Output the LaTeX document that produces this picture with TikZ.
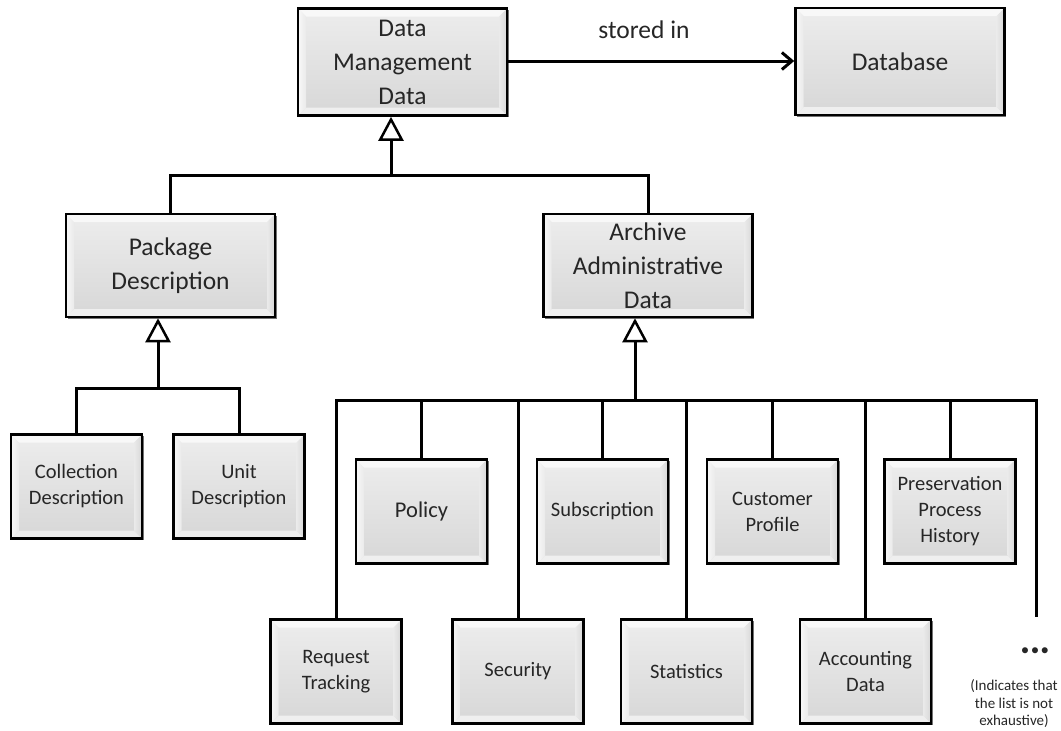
\documentclass[tikz,border=0pt]{standalone}
\usepackage{fontspec}
\setmainfont{Carlito}
\usetikzlibrary{arrows.meta,shadows}
\definecolor{bvtop}{HTML}{F8F8F8}
\definecolor{bvside}{HTML}{EAEAEA}
\definecolor{bvbot}{HTML}{EFEFEF}
\definecolor{midtop}{HTML}{EDEDED}
\definecolor{midbot}{HTML}{D7D7D7}
\definecolor{txt}{HTML}{262626}
\newcommand{\bigfont}{\fontsize{25.5}{34}\selectfont}
\newcommand{\smallfont}{\fontsize{20.5}{26}\selectfont}
\newcommand{\polfont}{\fontsize{22.5}{28}\selectfont}
\newcommand{\notefont}{\fontsize{15}{17.5}\selectfont}
\begin{document}
\begin{tikzpicture}[x=1pt,y=-1pt,
  box/.style={draw=black, line width=2.6pt, inner sep=0pt, align=center, text=txt,
    fill=midbot,
    drop shadow={shadow xshift=1.6pt, shadow yshift=-1.6pt, fill=black!55, opacity=1},
    path picture={
      \def\bv{8pt}
      \coordinate (nw) at (path picture bounding box.north west);
      \coordinate (ne) at (path picture bounding box.north east);
      \coordinate (sw) at (path picture bounding box.south west);
      \coordinate (se) at (path picture bounding box.south east);
      \shade[top color=midtop, bottom color=midbot] (nw) rectangle (se);
      \fill[bvtop] (nw) -- (ne) -- ([xshift=-\bv,yshift=-\bv]ne) -- ([xshift=\bv,yshift=-\bv]nw) -- cycle;
      \fill[bvbot] (sw) -- (se) -- ([xshift=-\bv,yshift=\bv]se) -- ([xshift=\bv,yshift=\bv]sw) -- cycle;
      \shade[left color=bvtop, right color=bvside] (nw) -- ([xshift=\bv,yshift=-\bv]nw) -- ([xshift=\bv,yshift=\bv]sw) -- (sw) -- cycle;
      \shade[left color=bvside, right color=midbot] (ne) -- ([xshift=-\bv,yshift=-\bv]ne) -- ([xshift=-\bv,yshift=\bv]se) -- (se) -- cycle;
    }},
  bigbox/.style={box, minimum width=209pt, minimum height=107pt, font=\bigfont},
  smallbox/.style={box, minimum width=131pt, minimum height=104pt, font=\smallfont},
  conn/.style={line width=3pt, line join=miter},
  gen/.style={conn, -{Triangle[open, length=24pt, width=25pt, line width=2.5pt, fill=white]}},
  assoc/.style={conn, -{Straight Barb[length=10pt, width=17pt, line width=3pt]}}
]
\useasboundingbox (0,0) rectangle (1061,731);

% top level
\node[bigbox] (dmd) at (402.5,62) {Data\\Management\\Data};
\node[bigbox] (db) at (900,61.5) {Database};
\node[font=\bigfont, text=txt] (lbl) at (644,30) {stored in};
\draw[assoc] (dmd.east |- 0,61) -- (db.west |- 0,61);

% second level
\node[bigbox, minimum height=103pt] (pkg) at (170.5,265.5) {Package\\Description};
\node[bigbox, minimum height=103pt] (aad) at (648,265.5) {Archive\\Administrative\\Data};

\coordinate (j1) at (391,175);
\draw[conn] (pkg.north) |- (j1) -| (aad.north);
\draw[gen] (j1) -- (j1 |- dmd.south);

% package children
\node[smallbox] (coll) at (76.5,486.5) {Collection\\Description};
\node[smallbox] (unit) at (239,486.5) {Unit\\Description};
\coordinate (j2) at (158,388);
\draw[conn] (coll.north) |- (j2) -| (unit.north);
\draw[gen] (j2) -- (j2 |- pkg.south);

% archive children, top row
\node[smallbox, font=\polfont] (pol) at (421.5,511.5) {Policy};
\node[smallbox] (sub) at (602.5,511.5) {Subscription};
\node[smallbox] (cust) at (772.5,511.5) {Customer\\Profile};
\node[smallbox] (pres) at (950,511.5) {Preservation\\Process\\History};

% archive children, bottom row
\node[smallbox] (req) at (336,671.5) {Request\\Tracking};
\node[smallbox] (sec) at (518,671.5) {Security};
\node[smallbox] (stat) at (686.5,671.5) {Statistics};
\node[smallbox] (acct) at (865.5,671.5) {Accounting\\Data};

\coordinate (j3) at (635,400);
\coordinate (more) at (1036,617);
\draw[conn] (req.north) |- (j3) -| (more);
\draw[gen] (j3) -- (j3 |- aad.south);
\foreach \n in {pol,sub,cust,pres,sec,stat,acct}
  \draw[conn] (\n.north) -- (\n.north |- j3);

\node[font=\fontsize{17}{17}\selectfont, text=txt] (dots) at (1035,652) {\textbullet\hspace{1.5pt}\textbullet\hspace{1.5pt}\textbullet};
\node[font=\notefont, text=txt, align=center] (note) at (1014,704) {(Indicates that\\the list is not\\exhaustive)};
\end{tikzpicture}
\end{document}
